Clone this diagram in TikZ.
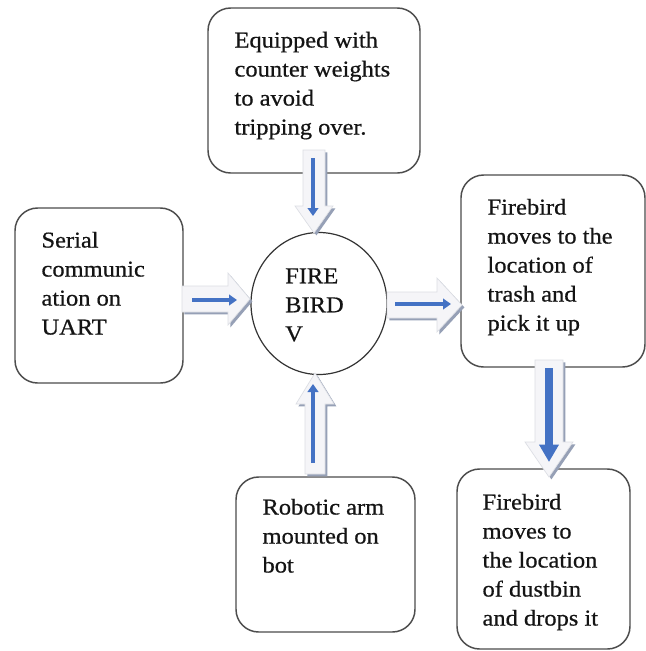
\documentclass[tikz,border=0pt]{standalone}
\usepackage{fontspec}
\setmainfont{Liberation Serif}[FakeStretch=1.08,FakeBold=0.6]
\usetikzlibrary{calc,arrows.meta,shapes.geometric}
\definecolor{arrblue}{RGB}{68,114,196}
\definecolor{arrshade}{RGB}{150,160,182}
\definecolor{arrfill}{RGB}{245,245,248}
\definecolor{arrline}{RGB}{220,222,228}
\newcommand\txtfont{\fontsize{17pt}{21.75pt}\selectfont}
\newcommand\fstrut{\rule{0pt}{12pt}}
\newcommand\blockarr[5]{%
  \coordinate (hb) at ($(#2)!#5!(#1)$);
  \def\arrpath{($(#1)!#3!90:(#2)$) -- ($(hb)!#3!-90:(#1)$) -- ($(hb)!#4!-90:(#1)$) -- (#2) -- ($(hb)!#4!90:(#1)$) -- ($(hb)!#3!90:(#1)$) -- ($(#1)!#3!-90:(#2)$) -- cycle}%
  \fill[arrshade, transform canvas={xshift=1.8pt,yshift=-1.8pt}] \arrpath;
  \filldraw[fill=arrfill, draw=arrline, line width=0.5pt] \arrpath;
}
\tikzset{
  box/.style={draw=black!70, line width=1.1pt, rounded corners=17pt, fill=white, inner sep=0pt},
  boxtext/.style={anchor=north west, inner sep=0pt, align=left, font=\txtfont, text=black!92},
  bluearr/.style={draw=arrblue, line width=3pt, -{Triangle[length=6pt,width=8pt]}},
  bigbluearr/.style={draw=arrblue, line width=6pt, -{Triangle[length=13pt,width=14pt]}}
}
\begin{document}
\begin{tikzpicture}[x=0.75pt,y=-0.75pt]
\useasboundingbox[fill=white] (0,0) rectangle (646,651);
% boxes
\node[box, minimum width=159pt, minimum height=123.75pt] (top) at (314,90.5) {};
\node[box, minimum width=126pt, minimum height=131.25pt] (left) at (99,295.5) {};
\node[box, minimum width=138pt, minimum height=144pt] (right) at (553,271) {};
\node[box, minimum width=134.25pt, minimum height=116.25pt] (bot) at (325.5,554.5) {};
\node[box, minimum width=129.75pt, minimum height=135pt] (br) at (543.5,559) {};
\node[ellipse, draw=black!80, line width=0.9pt, minimum width=102pt, minimum height=106.5pt, inner sep=0pt] (fb) at (319,303.5) {};
% texts
\node[boxtext] (toptext) at ([shift={(27,24)}]top.north west) {\fstrut Equipped with\\counter weights\\to avoid\\tripping over.};
\node[boxtext] (lefttext) at ([shift={(27,24)}]left.north west) {\fstrut Serial\\communic\\ation on\\UART};
\node[boxtext] (righttext) at ([shift={(27,24)}]right.north west) {\fstrut Firebird\\moves to the\\location of\\trash and\\pick it up};
\node[boxtext] (bottext) at ([shift={(27,22)}]bot.north west) {\fstrut Robotic arm\\mounted on\\bot};
\node[boxtext] (brtext) at ([shift={(26,25)}]br.north west) {\fstrut Firebird\\moves to\\the location\\of dustbin\\and drops it};
\node[boxtext] (fbtext) at (285,267) {\fstrut FIRE\\BIRD\\V};
% arrow end points
\coordinate (l1) at (182,299); \coordinate (l2) at (250,299);
\coordinate (t1) at (314,150); \coordinate (t2) at (314,233);
\coordinate (r1) at (387,305); \coordinate (r2) at (462,305);
\coordinate (d1) at (549,360); \coordinate (d2) at (549,477);
\coordinate (u1) at (315,474); \coordinate (u2) at (315,373);
\blockarr{l1}{l2}{9.75pt}{19.5pt}{16.5pt}
\blockarr{t1}{t2}{8.25pt}{14.25pt}{20.25pt}
\blockarr{r1}{r2}{9.75pt}{20.25pt}{18.75pt}
\blockarr{d1}{d2}{10.5pt}{18pt}{26.25pt}
\blockarr{u1}{u2}{7.5pt}{14.25pt}{23.25pt}
% blue arrows
\coordinate (lb1) at (192,300); \coordinate (lb2) at (237,300);
\coordinate (tb1) at (313,158); \coordinate (tb2) at (313,216);
\coordinate (rb1) at (395,304); \coordinate (rb2) at (451,304);
\coordinate (db1) at (549,368); \coordinate (db2) at (549,462);
\coordinate (ub1) at (313,463); \coordinate (ub2) at (313,384);
\draw[bluearr] (lb1) -- (lb2);
\draw[bluearr] (tb1) -- (tb2);
\draw[bluearr] (rb1) -- (rb2);
\draw[bigbluearr] (db1) -- (db2);
\draw[bluearr] (ub1) -- (ub2);
\end{tikzpicture}
\end{document}
